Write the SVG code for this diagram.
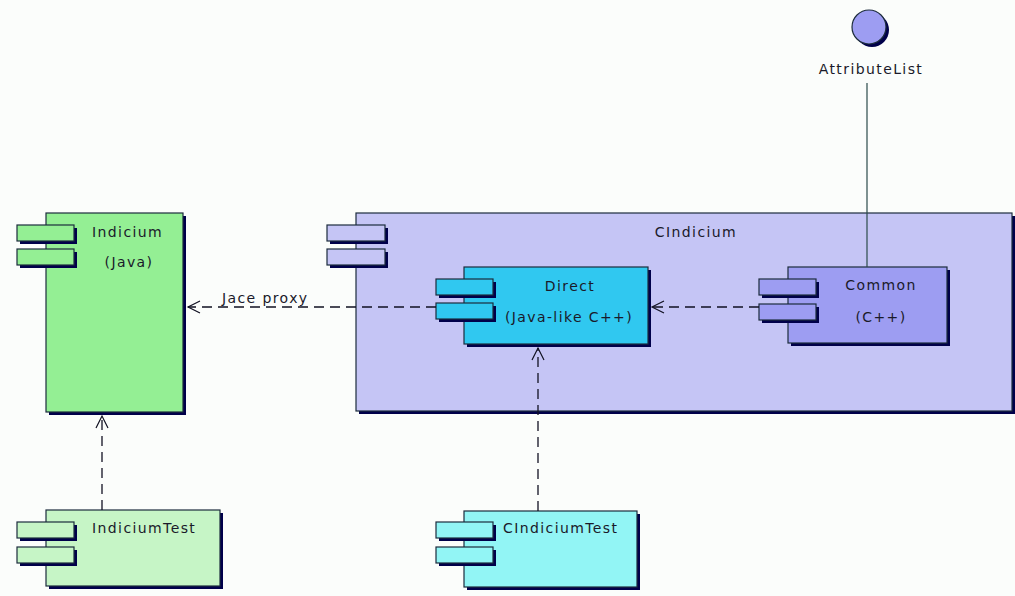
<svg xmlns="http://www.w3.org/2000/svg" width="1015" height="596" viewBox="0 0 1015 596">
<style>
  .bg { fill: #fbfdfb; }
  .sh { fill: #00004a; }
  .bx { stroke: #1c2c3c; stroke-width: 1.2; }
  .t { font-family: "DejaVu Sans", Verdana, sans-serif; font-size: 14px; letter-spacing: 1.4px; fill: #1a1a2a; }
  .m { text-anchor: middle; }
  .dep { fill: none; stroke: #111122; stroke-width: 1.3; stroke-dasharray: 10 6; }
  .sol { fill: none; stroke: #2a4a4a; stroke-width: 1.2; }
  .g1 { fill: #94ef94; }
  .g2 { fill: #c6f5c6; }
  .p1 { fill: #c5c5f5; }
  .b1 { fill: #30c8f0; }
  .p2 { fill: #9d9df2; }
  .c1 { fill: #92f5f5; }
</style>
<defs>
  <marker id="open" viewBox="-14 -8 16 16" refX="0" refY="0" markerWidth="16" markerHeight="16" markerUnits="userSpaceOnUse" orient="auto">
    <path d="M-12,-6 L0,0 L-12,6" fill="none" stroke="#111122" stroke-width="1.2"/>
  </marker>
</defs>
<rect class="bg" x="0" y="0" width="1015" height="596"/>

<g id="node-indicium">
  <rect class="sh" x="49" y="216" width="137" height="199"/>
  <rect class="g1 bx" x="46" y="213" width="137" height="199"/>
  <rect class="sh" x="20" y="228" width="57" height="16"/>
  <rect class="g1 bx" x="17" y="225" width="57" height="16"/>
  <rect class="sh" x="20" y="252" width="57" height="16"/>
  <rect class="g1 bx" x="17" y="249" width="57" height="16"/>
  <text class="t" x="92" y="237">Indicium</text>
  <text class="t m" x="129" y="267">(Java)</text>
</g>

<g id="node-cindicium">
  <rect class="sh" x="359" y="216" width="656" height="198"/>
  <rect class="p1 bx" x="356" y="213" width="656" height="198"/>
  <rect class="sh" x="330" y="228" width="58" height="16"/>
  <rect class="p1 bx" x="327" y="225" width="58" height="16"/>
  <rect class="sh" x="330" y="252" width="58" height="16"/>
  <rect class="p1 bx" x="327" y="249" width="58" height="16"/>
  <text class="t m" x="696" y="237">CIndicium</text>
</g>

<g id="node-direct">
  <rect class="sh" x="467" y="270" width="184" height="77"/>
  <rect class="b1 bx" x="464" y="267" width="184" height="77"/>
  <rect class="sh" x="439" y="282" width="57" height="16"/>
  <rect class="b1 bx" x="436" y="279" width="57" height="16"/>
  <rect class="sh" x="439" y="306" width="57" height="16"/>
  <rect class="b1 bx" x="436" y="303" width="57" height="16"/>
  <text class="t m" x="570" y="291">Direct</text>
  <text class="t m" x="569" y="322">(Java-like C++)</text>
</g>

<g id="node-common">
  <rect class="sh" x="791" y="270" width="159" height="76"/>
  <rect class="p2 bx" x="788" y="267" width="159" height="76"/>
  <rect class="sh" x="762" y="282" width="57" height="16"/>
  <rect class="p2 bx" x="759" y="279" width="57" height="16"/>
  <rect class="sh" x="762" y="307" width="57" height="16"/>
  <rect class="p2 bx" x="759" y="304" width="57" height="16"/>
  <text class="t m" x="881" y="290">Common</text>
  <text class="t m" x="881" y="322">(C++)</text>
</g>

<g id="node-attributelist">
  <circle class="sh" cx="872" cy="30" r="17"/>
  <circle class="p2 bx" cx="869" cy="27" r="17"/>
  <text class="t m" x="871" y="74">AttributeList</text>
</g>

<g id="node-indiciumtest">
  <rect class="sh" x="49" y="513" width="174" height="76"/>
  <rect class="g2 bx" x="46" y="510" width="174" height="76"/>
  <rect class="sh" x="20" y="525" width="57" height="16"/>
  <rect class="g2 bx" x="17" y="522" width="57" height="16"/>
  <rect class="sh" x="20" y="550" width="57" height="16"/>
  <rect class="g2 bx" x="17" y="547" width="57" height="16"/>
  <text class="t" x="92" y="533">IndiciumTest</text>
</g>

<g id="node-cindiciumtest">
  <rect class="sh" x="467" y="514" width="173" height="76"/>
  <rect class="c1 bx" x="464" y="511" width="173" height="76"/>
  <rect class="sh" x="439" y="525" width="57" height="16"/>
  <rect class="c1 bx" x="436" y="522" width="57" height="16"/>
  <rect class="sh" x="439" y="550" width="57" height="16"/>
  <rect class="c1 bx" x="436" y="547" width="57" height="16"/>
  <text class="t" x="503" y="533">CIndiciumTest</text>
</g>

<g id="connectors">
  <line class="dep" x1="436" y1="307" x2="188" y2="307" marker-end="url(#open)"/>
  <text class="t" x="222" y="303">Jace proxy</text>
  <line class="dep" x1="759" y1="307" x2="652" y2="307" marker-end="url(#open)"/>
  <line class="dep" x1="102" y1="510" x2="102" y2="416" marker-end="url(#open)"/>
  <line class="dep" x1="538" y1="511" x2="538" y2="348" marker-end="url(#open)"/>
  <line class="sol" x1="867" y1="83" x2="867" y2="267"/>
</g>
</svg>
